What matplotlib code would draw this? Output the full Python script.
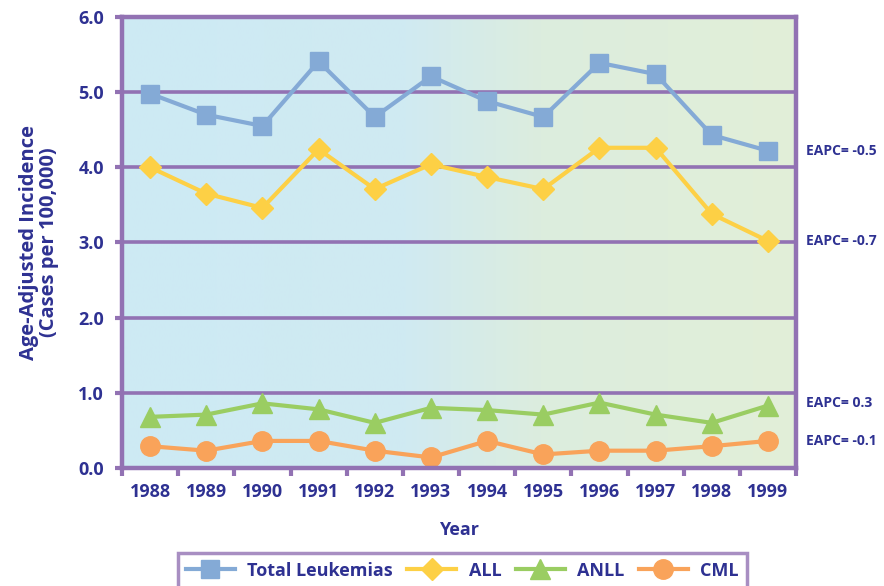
import numpy as np
import matplotlib
matplotlib.use("Agg")
import matplotlib.pyplot as plt
from matplotlib.colors import LinearSegmentedColormap

years = ["1988", "1989", "1990", "1991", "1992", "1993", "1994", "1995", "1996", "1997", "1998", "1999"]
total = [4.98, 4.70, 4.55, 5.41, 4.67, 5.21, 4.88, 4.67, 5.39, 5.24, 4.43, 4.22]
all_ = [4.00, 3.65, 3.46, 4.24, 3.71, 4.04, 3.87, 3.71, 4.26, 4.26, 3.38, 3.02]
anll = [0.68, 0.71, 0.86, 0.78, 0.60, 0.80, 0.77, 0.71, 0.87, 0.71, 0.60, 0.83]
cml = [0.29, 0.23, 0.36, 0.36, 0.23, 0.14, 0.36, 0.18, 0.23, 0.23, 0.29, 0.36]
eapc = ["EAPC= -0.5", "EAPC= -0.7", "EAPC= 0.3", "EAPC= -0.1"]
yticks = [0.0, 1.0, 2.0, 3.0, 4.0, 5.0, 6.0]

navy = "#2e3192"
purple = "#9272b3"
plt.rcParams['font.family'] = ['Open Sans', 'DejaVu Sans']
plt.rcParams['font.weight'] = 'bold'

fig = plt.figure(figsize=(8.84, 5.86), dpi=100)
ax = fig.add_axes([0.138, 0.2014, 0.7625, 0.7696])

x = np.arange(len(years))
ax.set_xlim(-0.5, len(years) - 0.5)
ax.set_ylim(0, 6)

# gradient background
cmap = LinearSegmentedColormap.from_list("bg", [(0, "#cdeaf4"), (0.42, "#d0eaf2"), (0.62, "#dcedde"), (1, "#e2efd8")])
grad = np.linspace(0, 1, 256).reshape(1, -1)
ax.imshow(grad, cmap=cmap, aspect="auto", extent=[-0.5, len(years) - 0.5, 0, 6], zorder=0)

for yv in yticks[1:-1]:
    ax.axhline(yv, color=purple, lw=2.6, zorder=1)

series = [
    ("Total Leukemias", total, "#84aad6", "s", 13),
    ("ALL", all_, "#fdd045", "D", 11),
    ("ANLL", anll, "#9acd62", "^", 14),
    ("CML", cml, "#f9a35a", "o", 14),
]
for name, vals, col, mk, ms in series:
    ax.plot(x, vals, color=col, lw=3, marker=mk, markersize=ms, label=name, zorder=3, clip_on=False)

for s in ax.spines.values():
    s.set_color(purple)
    s.set_linewidth(3.2)
    s.set_zorder(4)

ax.set_yticks(yticks)
ax.set_yticklabels([f"{v:.1f}" for v in yticks])
ax.set_xticks(x)
ax.set_xticklabels(years)
ax.set_xticks(np.arange(-0.5, len(years), 1), minor=True)
ax.tick_params(axis='x', which='major', length=0, pad=11, labelsize=13, labelcolor=navy)
ax.tick_params(axis='x', which='minor', length=6, width=3, color=purple, direction='out')
ax.tick_params(axis='y', which='major', length=5, width=3, color=purple, pad=8, labelsize=13, labelcolor=navy)
for lbl in ax.get_xticklabels() + ax.get_yticklabels():
    lbl.set_fontweight('bold')

ax.set_xlabel("Year", fontsize=13, fontweight='bold', color=navy, labelpad=14)
ax.set_ylabel("Age-Adjusted Incidence\n(Cases per 100,000)", fontsize=14.5, fontweight='bold', color=navy, labelpad=14, linespacing=0.95)

ends = [total[-1], all_[-1], anll[-1] + 0.03, cml[-1]]
for txt, yv in zip(eapc, ends):
    ax.annotate(txt, xy=(1.0, yv), xycoords=('axes fraction', 'data'), xytext=(7, 0),
                textcoords='offset points', va='center', ha='left', fontsize=10,
                fontweight='bold', color=navy, annotation_clip=False)

leg = fig.legend(loc='upper center', bbox_to_anchor=(0.523, 0.071), ncol=4, frameon=True,
                 fontsize=13, handlelength=2.7, columnspacing=0.8, handletextpad=0.7,
                 borderpad=0.45, fancybox=False)
leg.get_frame().set_edgecolor(purple)
leg.get_frame().set_linewidth(2.5)
for t in leg.get_texts():
    t.set_color(navy)
    t.set_fontweight('bold')

fig.savefig("out.png", dpi=100)
